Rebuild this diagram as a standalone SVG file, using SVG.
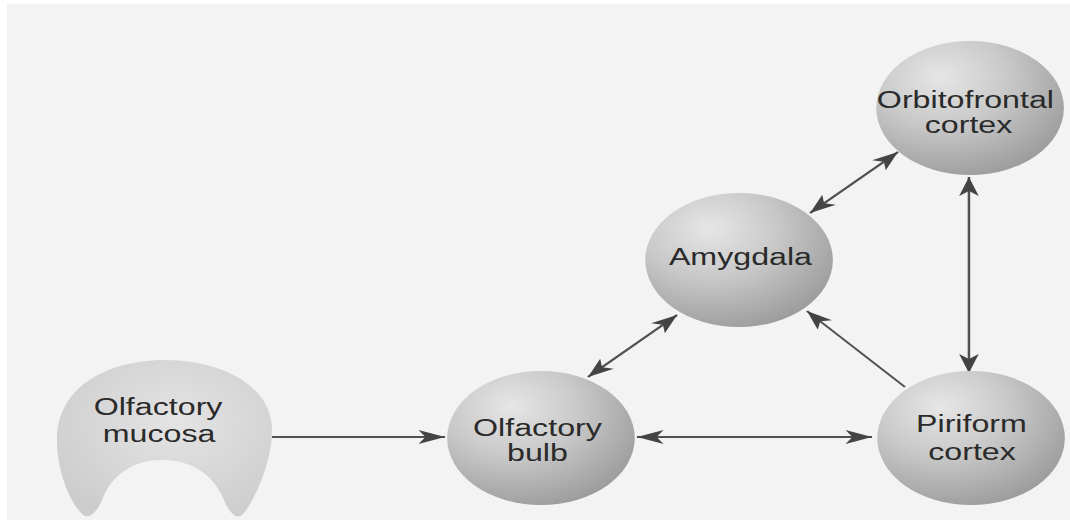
<svg xmlns="http://www.w3.org/2000/svg" width="1070" height="520" viewBox="0 0 1070 520">
  <defs>
    <radialGradient id="sphere" cx="0.36" cy="0.3" r="0.78" fx="0.34" fy="0.26">
      <stop offset="0" stop-color="#e6e6e6"/>
      <stop offset="0.45" stop-color="#c9c9c9"/>
      <stop offset="1" stop-color="#989898"/>
    </radialGradient>
    <radialGradient id="mucosaFill" cx="0.55" cy="0.4" r="0.65">
      <stop offset="0" stop-color="#e4e4e4"/>
      <stop offset="1" stop-color="#cdcdcd"/>
    </radialGradient>
    <marker id="head" viewBox="0 0 19 14" refX="19" refY="7" markerWidth="19" markerHeight="14" markerUnits="userSpaceOnUse" orient="auto-start-reverse">
      <path d="M19,7 L0,0 L5,7 L0,14 Z" fill="#444"/>
    </marker>
  </defs>
  <style>
    .sphere { fill: url(#sphere); }
    .label { font-family: "Liberation Sans", Arial, sans-serif; font-size: 23px; fill: #2a2a2a; text-anchor: middle; }
    .link { stroke: #505050; stroke-width: 1.8; fill: none; }
    .one { marker-end: url(#head); }
    .two { marker-start: url(#head); marker-end: url(#head); }
  </style>

  <rect width="1070" height="520" fill="#ffffff"/>
  <rect x="7" y="4" width="1063" height="516" fill="#f3f3f3"/>

  <!-- the whole figure is drawn with round nodes, then widened horizontally -->
  <g transform="scale(1.4 1)">
    <g id="connectors">
      <line class="link one" x1="194.3" y1="437" x2="317.9" y2="437"/>
      <line class="link two" x1="455" y1="437" x2="622.9" y2="437"/>
      <line class="link two" x1="420" y1="377" x2="483.6" y2="315"/>
      <line class="link two" x1="578.6" y1="213" x2="641.4" y2="152"/>
      <line class="link one" x1="646.4" y1="387" x2="576.4" y2="311"/>
      <line class="link two" x1="692.1" y1="177" x2="692.1" y2="373"/>
    </g>

    <g id="olfactory-mucosa">
      <path fill="url(#mucosaFill)" d="M59.3,515 C51.4,505 40.7,475 40.7,440 C40.7,385 78.6,360 117.9,360 C157.1,360 194.3,385 194.3,430 C194.3,465 180,505 172.9,515 C167.9,520 162.9,510 160,500 C153.6,478 139.3,460 115.7,460 C92.9,460 78.6,478 72.9,500 C70,510 64.3,520 59.3,515 Z"/>
      <text class="label" x="112.9" y="415">Olfactory</text>
      <text class="label" x="113.6" y="442">mucosa</text>
    </g>

    <g id="olfactory-bulb">
      <circle class="sphere" cx="386.4" cy="438" r="67"/>
      <text class="label" x="383.9" y="436">Olfactory</text>
      <text class="label" x="383.9" y="461">bulb</text>
    </g>

    <g id="amygdala">
      <circle class="sphere" cx="527.9" cy="260" r="67"/>
      <text class="label" x="528.9" y="265">Amygdala</text>
    </g>

    <g id="orbitofrontal-cortex">
      <circle class="sphere" cx="692.9" cy="108" r="67"/>
      <text class="label" x="689.6" y="108">Orbitofrontal</text>
      <text class="label" x="691.8" y="133">cortex</text>
    </g>

    <g id="piriform-cortex">
      <circle class="sphere" cx="693.6" cy="438" r="67"/>
      <text class="label" x="693.9" y="432">Piriform</text>
      <text class="label" x="694.3" y="460">cortex</text>
    </g>
  </g>
</svg>
